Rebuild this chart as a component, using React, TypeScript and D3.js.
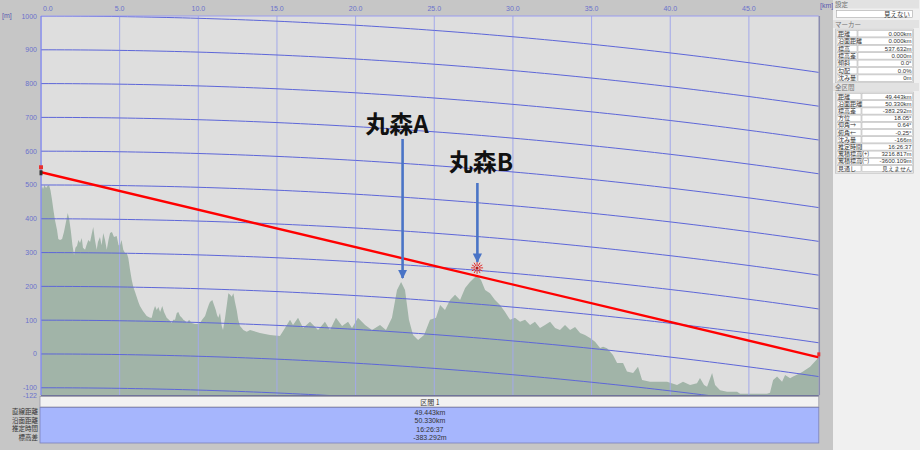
import React from 'react';
import * as d3 from 'd3';

// ---- data ----
const totalKm = 49.443;
const distKm = [
  0.0, 0.06, 0.13, 0.22, 0.32, 0.41, 0.51, 0.6, 0.7, 0.79, 0.89, 1.02, 1.1, 1.21, 1.34, 1.46, 1.59, 1.7, 1.78, 1.89,
  2.0, 2.1, 2.19, 2.29, 2.38, 2.48, 2.59, 2.67, 2.8, 2.89, 3.01, 3.12, 3.21, 3.32, 3.43, 3.54, 3.62, 3.75, 3.85, 3.96,
  4.07, 4.18, 4.29, 4.39, 4.51, 4.64, 4.81, 4.93, 5.02, 5.12, 5.23, 5.34, 5.45, 5.55, 5.66, 5.77, 5.87, 5.98, 6.08, 6.19,
  6.29, 6.48, 6.72, 6.93, 7.04, 7.14, 7.25, 7.36, 7.46, 7.57, 7.71, 7.82, 7.99, 8.2, 8.31, 8.41, 8.52, 8.63, 8.73, 8.84,
  8.96, 9.05, 9.15, 9.28, 9.41, 9.58, 9.79, 9.98, 10.11, 10.24, 10.43, 10.55, 10.66, 10.74, 10.89, 11.0, 11.11, 11.19, 11.27, 11.38,
  11.49, 11.57, 11.7, 11.81, 11.91, 12.02, 12.12, 12.23, 12.33, 12.44, 12.54, 12.65, 12.76, 12.86, 13.08, 13.29,
  13.92, 14.56, 15.19, 15.51, 15.83, 16.02, 16.34, 16.66, 17.1, 17.61, 18.05, 18.37, 18.75, 19.14, 19.52, 19.77, 20.15, 20.6,
  21.04, 21.55, 21.93, 22.31, 22.63, 22.89, 23.14, 23.39, 23.65, 23.97, 24.35, 24.73, 25.11, 25.37, 25.68, 26.0, 26.32, 26.64,
  26.96, 27.27, 27.53, 27.72, 27.97, 28.23, 28.54, 28.86, 29.18, 29.5, 29.82, 30.13, 30.45, 30.77, 31.09, 31.4, 31.72, 32.04,
  32.36, 32.68, 32.99, 33.31, 33.63, 33.95, 34.27, 34.58, 34.9, 35.22, 35.54, 35.73, 35.98, 36.36, 36.62, 37.0, 37.25, 37.64,
  37.95, 38.21, 38.72, 39.8, 40.43, 40.81, 41.26, 41.7, 41.89, 42.15, 42.34, 42.66, 42.85, 43.17, 43.61, 44.25, 44.44, 46.15,
  46.34, 46.54, 46.79, 47.11, 47.3, 47.62, 47.81, 48.25, 48.44, 48.89, 49.4, 49.443,
];
const elevM = [
  485, 497, 488, 500, 491, 497, 500, 485, 456, 426, 396, 367, 340, 337, 340, 361, 391, 417, 402, 367,
  322, 293, 314, 320, 337, 328, 343, 314, 308, 322, 337, 331, 352, 376, 337, 308, 331, 346, 322, 358,
  337, 308, 337, 358, 361, 346, 349, 322, 322, 337, 308, 299, 299, 284, 249, 219, 198, 183, 169, 154,
  142, 127, 112, 107, 107, 127, 142, 130, 139, 124, 142, 124, 107, 98, 92, 101, 101, 121, 124, 112,
  107, 101, 98, 92, 101, 92, 89, 89, 92, 101, 112, 130, 145, 154, 160, 145, 130, 115, 107, 121,
  83, 71, 107, 145, 180, 175, 169, 180, 154, 130, 101, 83, 77, 71, 66, 71,
  62, 56, 53, 77, 101, 86, 107, 77, 95, 71, 95, 71, 107, 83, 95, 77, 107, 86,
  71, 86, 71, 107, 189, 213, 189, 101, 56, 41, 56, 101, 107, 145, 130, 160, 175, 160,
  195, 213, 225, 234, 219, 189, 180, 160, 145, 124, 101, 107, 95, 101, 86, 95, 77, 86,
  95, 77, 71, 86, 71, 80, 62, 56, 47, 36, 18, 21, 17, -3, -27, -27, -52, -56,
  -38, -77, -82, -82, -92, -82, -92, -87, -71, -92, -97, -56, -92, -107, -112, -112, -118, -118,
  -115, -77, -67, -82, -62, -72, -67, -57, -52, -38, -12, -10,
];
const xTicks = [0, 5, 10, 15, 20, 25, 30, 35, 40, 45];
const yTicks = [1000, 900, 800, 700, 600, 500, 400, 300, 200, 100, 0, -100];
const yMin = -122;
const yMax = 1000;
const curveLevels = [-100, 0, 100, 200, 300, 400, 500, 600, 700, 800, 900, 1000];
const effectiveEarthRadiusKm = 7323;
const sightStartM = 537.632;
const sightEndM = -10;
const peakBKm = 27.72;
const peakBM = 234;
const annotations = [
  { label: '丸森A', km: 22.89, peak: 213 },
  { label: '丸森B', km: 27.74, peak: 234 },
];

const bottomLabels = ['直線距離', '沿面距離', '推定時間', '標高差'];
const bottomValues = ['49.443km', '50.330km', '16:26:37', '-383.292m'];
const markerLabels = ['距離', '沿面距離', '標高', '標高差', '傾斜', '勾配', '沈み量'];
const markerValues = ['0.000km', '0.000km', '537.632m', '0.000m', '0.0°', '0.0%', '0m'];
const allLabels = ['距離', '沿面距離', '標高差', '方位', '仰角→', '俯角←', '沈み量', '推定時間', '累積標高(+)', '累積標高(−)', '見通し'];
const allValues = ['49.443km', '50.330km', '-383.292m', '18.05°', '0.64°', '-0.25°', '-166m', '16:26:37', '3216.817m', '-3600.109m', '見えません'];

export default function App() {
  const W = 920, H = 456;
  const L = 41, R = 818.8, T = 16, B = 395.2;
  const x = d3.scaleLinear().domain([0, totalKm]).range([L, R]);
  const y = d3.scaleLinear().domain([yMin, yMax]).range([B, T]);
  const drop = (km: number) => (km * km) / (2 * effectiveEarthRadiusKm) * 1000;

  const area = d3.area<number>()
    .x((_, i) => x(distKm[i]))
    .y0(B)
    .y1((d) => y(d));
  const samples = d3.range(0, totalKm, 0.5).concat([totalKm]);
  const curveLine = (h: number) =>
    d3.line<number>().x((d) => x(d)).y((d) => y(h - drop(d)))(samples) || '';

  const axisColor = '#6a72cc';
  const smallFont = '"Noto Sans CJK JP", "DejaVu Sans", sans-serif';
  const numFont = '"Liberation Sans", "DejaVu Sans", sans-serif';

  const burst = d3.range(0, 360, 30).map((a) => {
    const r = (a * Math.PI) / 180;
    return { x1: Math.cos(r) * 2, y1: Math.sin(r) * 2, x2: Math.cos(r) * 6, y2: Math.sin(r) * 6 };
  });

  const rowH1 = 7.4, rowH2 = 7.2;
  const t1Top = 30, t2Top = 93;

  return (
    <svg width={W} height={H} style={{ position: 'absolute', left: 0, top: 0, display: 'block' }}
      xmlns="http://www.w3.org/2000/svg">
      <defs>
        <clipPath id="plotClip">
          <rect x={L} y={T} width={R - L} height={B - T} />
        </clipPath>
        <marker id="arrowHead" viewBox="0 0 10 10" refX="9" refY="5" markerWidth="3.6" markerHeight="3.6" orient="auto">
          <path d="M0,0 L10,5 L0,10 z" fill="#4a74c6" />
        </marker>
      </defs>
      <rect x={0} y={0} width={W} height={H} fill="#ffffff" />
      <rect x={0} y={0} width={833} height={450} fill="#c6c6c6" />
      <rect x={833} y={0} width={87} height={450} fill="#f0f0f0" />
      <rect x={L} y={T} width={R - L} height={B - T} fill="#dedede" />

      <g clipPath="url(#plotClip)">
        <path d={area(elevM) || ''} fill="#a1b4a8" />
        {xTicks.map((t) => (
          <line key={t} x1={x(t)} x2={x(t)} y1={T} y2={B} stroke="#a3a9ea" strokeWidth={1} />
        ))}
        {curveLevels.map((h) => (
          <path key={h} d={curveLine(h)} fill="none" stroke="#5d66d8" strokeWidth={1} />
        ))}
        <line x1={x(0)} y1={y(sightStartM)} x2={x(totalKm)} y2={y(sightEndM)} stroke="#ff0000" strokeWidth={2.4} />
      </g>

      <line x1={L} y1={T} x2={R} y2={T} stroke="#9a9cf0" strokeWidth={1.2} />
      <line x1={L} y1={T} x2={L} y2={B} stroke="#7f86f0" strokeWidth={1.2} />
      <line x1={R + 0.5} y1={T} x2={R + 0.5} y2={B} stroke="#8a8cb0" strokeWidth={1.5} />
      <line x1={L} y1={B + 0.5} x2={R} y2={B + 0.5} stroke="#70749a" strokeWidth={1.2} />

      <rect x={x(0) - 2} y={y(sightStartM) - 7} width={4} height={4} fill="#e83030" />
      <rect x={x(0) - 1.5} y={y(sightStartM) - 2} width={3} height={5} fill="#303030" />
      <rect x={x(totalKm) - 1.5} y={y(sightEndM) - 5} width={3} height={4} fill="#e83030" />
      <g transform={`translate(${x(peakBKm)},${y(peakBM) - 7})`}>
        {burst.map((b, i) => (
          <line key={i} x1={b.x1} y1={b.y1} x2={b.x2} y2={b.y2} stroke="#e03030" strokeWidth={1} />
        ))}
        <circle r={1.5} fill="#b02020" />
      </g>

      {xTicks.map((t) => (
        <text key={t} x={t === 0 ? x(t) + 2 : x(t)} y={11} fontSize={7} fontFamily={numFont}
          fill={axisColor} textAnchor={t === 0 ? 'start' : 'middle'}>{t.toFixed(1)}</text>
      ))}
      <text x={820} y={8} fontSize={7} fontFamily={numFont} fill="#5a5ab0">[km]</text>

      <text x={2} y={18} fontSize={7} fontFamily={numFont} fill="#5a5ab0">[m]</text>
      {yTicks.map((t) => (
        <text key={t} x={37} y={y(t) + 2.5} fontSize={7} fontFamily={numFont} fill={axisColor} textAnchor="end">{t}</text>
      ))}
      <text x={37} y={y(yMin) + 2.5} fontSize={7} fontFamily={numFont} fill={axisColor} textAnchor="end">{yMin}</text>

      <text x={397} y={133} fontSize={24} fontWeight={700} fontFamily={smallFont} fill="#111" textAnchor="middle">{annotations[0].label}</text>
      <line x1={x(annotations[0].km) + 1.5} y1={139} x2={x(annotations[0].km) + 1.5} y2={y(annotations[0].peak) - 4}
        stroke="#4a74c6" strokeWidth={2.6} markerEnd="url(#arrowHead)" />
      <text x={481} y={171} fontSize={24} fontWeight={700} fontFamily={smallFont} fill="#111" textAnchor="middle">{annotations[1].label}</text>
      <line x1={x(annotations[1].km)} y1={183} x2={x(annotations[1].km)} y2={y(annotations[1].peak) - 13}
        stroke="#4a74c6" strokeWidth={2.6} markerEnd="url(#arrowHead)" />

      <rect x={L - 1} y={396.5} width={R - L + 1} height={10.5} fill="#f2f2f2" stroke="#9a9aa8" strokeWidth={0.8} />
      <text x={(L + R) / 2} y={404.5} fontSize={7} fontFamily={smallFont} fill="#333" textAnchor="middle">区間 1</text>
      <rect x={L - 1} y={407.5} width={R - L + 1} height={35.5} fill="#a6b6fd" stroke="#7a80b8" strokeWidth={0.8} />
      {bottomLabels.map((s, i) => (
        <text key={s} x={38} y={414 + i * 8.6} fontSize={6.5} fontFamily={smallFont} fill="#333" textAnchor="end">{s}</text>
      ))}
      {bottomValues.map((s, i) => (
        <text key={s} x={(L + R) / 2} y={414.5 + i * 8.6} fontSize={7} fontFamily={numFont} fill="#333" textAnchor="middle">{s}</text>
      ))}

      <rect x={833} y={0} width={86} height={8.5} fill="#e2e2e2" />
      <text x={835} y={6.5} fontSize={6.5} fontFamily={smallFont} fill="#707070">設定</text>
      <rect x={836.5} y={10.5} width={76} height={7} fill="#ffffff" stroke="#a8a8a8" strokeWidth={0.6} />
      <text x={910} y={16.5} fontSize={6.5} fontFamily={smallFont} fill="#333" textAnchor="end">見えない</text>
      <rect x={833} y={20} width={86} height={8} fill="#e2e2e2" />
      <text x={835} y={26.5} fontSize={6.5} fontFamily={smallFont} fill="#707070">マーカー</text>
      <rect x={835.5} y={t1Top - 1} width={78} height={rowH1 * markerLabels.length + 2} fill="#e8e8e8" stroke="#b8b8b8" strokeWidth={0.6} />
      {markerLabels.map((s, i) => (
        <g key={s + i}>
          <rect x={837} y={t1Top + i * rowH1 + 0.5} width={20} height={rowH1 - 1} fill="#ffffff" stroke="#b0b0b0" strokeWidth={0.5} />
          <rect x={858} y={t1Top + i * rowH1 + 0.5} width={54.5} height={rowH1 - 1} fill="#ffffff" stroke="#b0b0b0" strokeWidth={0.5} />
          <text x={838} y={t1Top + i * rowH1 + 5.8} fontSize={6} fontFamily={smallFont} fill="#333">{s}</text>
          <text x={911.5} y={t1Top + i * rowH1 + 5.8} fontSize={6} fontFamily={numFont} fill="#333" textAnchor="end">{markerValues[i]}</text>
        </g>
      ))}
      <rect x={833} y={83} width={86} height={8} fill="#e2e2e2" />
      <text x={835} y={89.5} fontSize={6.5} fontFamily={smallFont} fill="#707070">全区間</text>
      <rect x={835.5} y={t2Top - 1} width={78} height={rowH2 * allLabels.length + 2} fill="#e8e8e8" stroke="#b8b8b8" strokeWidth={0.6} />
      {allLabels.map((s, i) => (
        <g key={s + i}>
          <rect x={837} y={t2Top + i * rowH2 + 0.5} width={24} height={rowH2 - 1} fill="#ffffff" stroke="#b0b0b0" strokeWidth={0.5} />
          <rect x={862} y={t2Top + i * rowH2 + 0.5} width={50.5} height={rowH2 - 1} fill="#ffffff" stroke="#b0b0b0" strokeWidth={0.5} />
          <text x={838} y={t2Top + i * rowH2 + 5.6} fontSize={6} fontFamily={smallFont} fill="#333">{s}</text>
          <text x={911.5} y={t2Top + i * rowH2 + 5.6} fontSize={6} fontFamily={numFont} fill="#333" textAnchor="end">{allValues[i]}</text>
        </g>
      ))}
    </svg>
  );
}
